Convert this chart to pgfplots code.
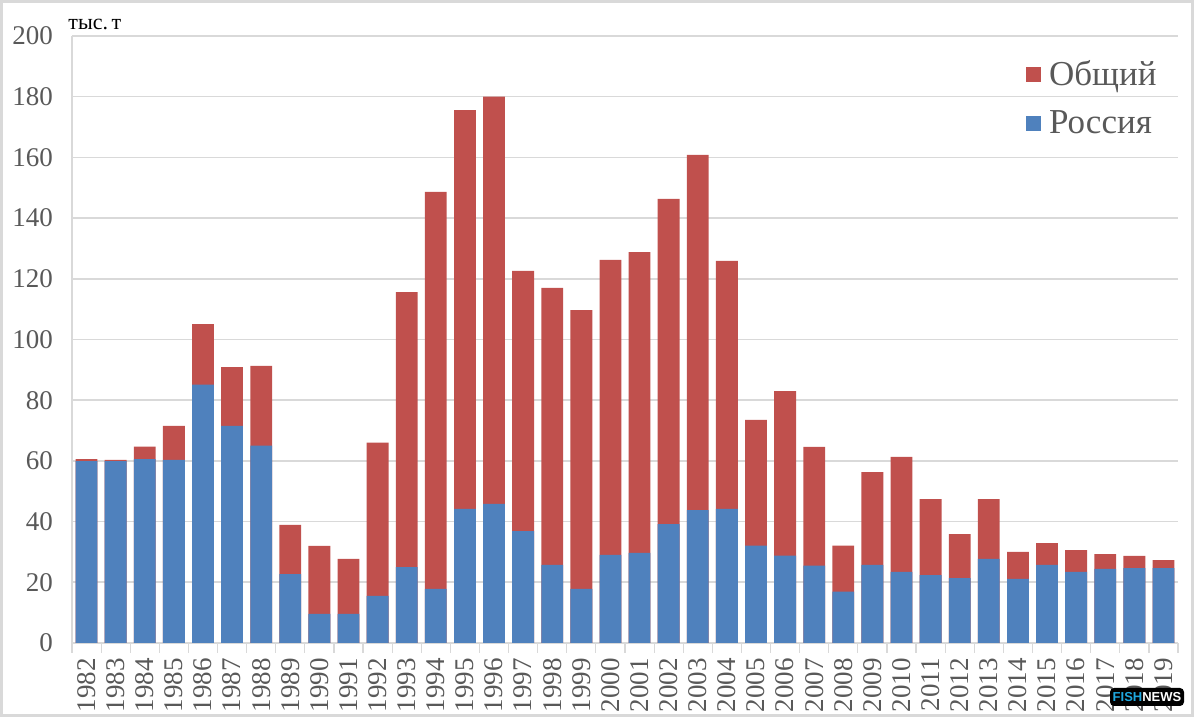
\documentclass[border=0pt]{standalone}
\usepackage{pgfplots}
\pgfplotsset{compat=1.18}
\usepackage{pgfplotstable}
\usepackage{fontspec}
\setmainfont{Liberation Serif}
\newfontfamily\logofont{Liberation Sans}
\definecolor{cred}{HTML}{C0504D}
\definecolor{cblue}{HTML}{4F81BD}
\definecolor{ctxt}{HTML}{595959}
\definecolor{cgrid}{HTML}{D9D9D9}
\definecolor{ccyan}{HTML}{1FA8E0}
\pgfplotstableread{
x total russia
0 60.6 59.9
1 60.3 59.9
2 64.7 60.6
3 71.5 60.3
4 105.1 85.1
5 90.9 71.5
6 91.3 65
7 38.9 22.7
8 32 9.6
9 27.7 9.6
10 66 15.5
11 115.6 25
12 148.6 17.8
13 175.6 44.2
14 180 45.8
15 122.6 36.9
16 117 25.7
17 109.7 17.8
18 126.2 29
19 128.8 29.7
20 146.3 39.2
21 160.8 43.8
22 125.9 44.2
23 73.5 32.1
24 83 28.8
25 64.6 25.5
26 32.1 16.9
27 56.3 25.7
28 61.3 23.4
29 47.4 22.4
30 35.9 21.4
31 47.4 27.7
32 30 21.1
33 32.9 25.7
34 30.6 23.4
35 29.3 24.4
36 28.7 24.7
37 27.3 24.7
}\datatable
\begin{document}
\begin{tikzpicture}
\useasboundingbox (-36pt,-37pt) rectangle (561pt,321.5pt);
\draw[cgrid, line width=1.5pt] (-35.25pt,-36.25pt) rectangle (560.25pt,320.75pt);
\begin{axis}[
  at={(0,0)}, anchor=south west,
  scale only axis,
  width=553pt, height=303.5pt,
  xmin=-0.5, xmax=37.5, ymin=0, ymax=200,
  ytick={0,20,...,200},
  xtick={0,...,37},
  xticklabels={1982,1983,1984,1985,1986,1987,1988,1989,1990,1991,1992,1993,1994,1995,1996,1997,1998,1999,2000,2001,2002,2003,2004,2005,2006,2007,2008,2009,2010,2011,2012,2013,2014,2015,2016,2017,2018,2019},
  minor xtick={-0.5,0.5,...,37.5},
  major tick length=0pt,
  minor tick length=5pt,
  tick align=outside,
  minor tick style={cgrid, line width=0.6pt},
  axis x line*=bottom, axis y line*=left,
  axis line style={cgrid, line width=0.8pt, -},
  ymajorgrids, grid style={cgrid, line width=0.8pt},
  /pgf/number format/assume math mode=true,
  tick label style={font=\fontsize{13.5}{15}\selectfont, text=ctxt},
  yticklabel style={xshift=-6pt},
  xticklabel style={rotate=90, anchor=east},
  xticklabel shift=4pt,
  ybar, bar shift=0pt, bar width=0.75,
  legend style={at={(rel axis cs:0.99,0.974)}, anchor=north east, draw=none, fill=none,
     font=\fontsize{17.5}{20}\selectfont, text=ctxt, row sep=7pt,
     legend cell align=left},
  legend image code/.code={\fill (0pt,-3.75pt) rectangle (7.5pt,3.75pt); \path (9.5pt,0pt);},
  clip=false,
]
\addplot[fill=cred, draw=none] table[x=x, y=total] {\datatable};
\addlegendentry{Общий}
\addplot[fill=cblue, draw=none] table[x=x, y=russia] {\datatable};
\addlegendentry{Россия}
\node[anchor=base west, font=\fontsize{11}{12}\selectfont, inner sep=0pt] at ([xshift=-2pt, yshift=3pt]rel axis cs:0,1) {тыс.\,т};
\node[fill=black, rounded corners=2pt, minimum width=37pt, minimum height=9pt, inner sep=0pt,
  font=\logofont\bfseries\fontsize{6.5}{7}\selectfont] at ([xshift=-15.5pt, yshift=-27pt]rel axis cs:1,0) {\textcolor{ccyan}{FISH}\textcolor{white}{NEWS}};
\end{axis}
\end{tikzpicture}
\end{document}
